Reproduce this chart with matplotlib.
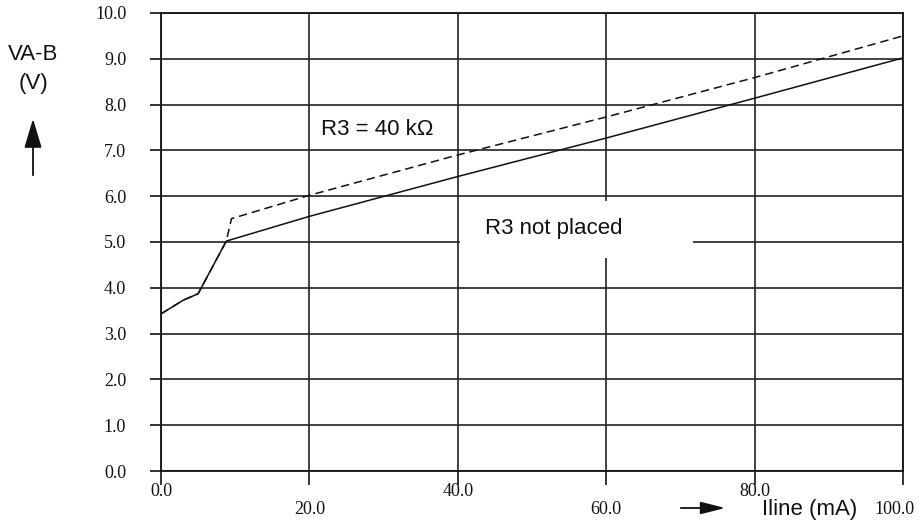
import matplotlib
matplotlib.use("Agg")
import matplotlib.pyplot as plt
from matplotlib.patches import FancyArrowPatch, Rectangle
from matplotlib.transforms import IdentityTransform, ScaledTranslation

# ---- data ----
iline_no_r3 = [0, 3.0, 5.0, 8.8, 20, 40, 60, 80, 100]
vab_no_r3 = [3.43, 3.73, 3.87, 5.02, 5.56, 6.43, 7.27, 8.14, 9.02]

iline_r3 = [0, 3.0, 5.0, 8.8, 9.5, 20, 40, 60, 80, 100]
vab_r3 = [3.43, 3.73, 3.87, 5.02, 5.51, 6.02, 6.90, 7.73, 8.59, 9.50]

x_major = [0, 40, 80]
x_major_labels = ["0.0", "40.0", "80.0"]
x_minor = [20, 60, 100]
x_minor_labels = ["20.0", "60.0", "100.0"]
y_ticks = [0, 1, 2, 3, 4, 5, 6, 7, 8, 9, 10]
y_labels = ["%.1f" % v for v in y_ticks]

label_r3 = "R3 = 40 k\u03a9"
label_no_r3 = "R3 not placed"
y_title = "VA-B\n(V)"
x_title = "Iline (mA)"

W, H = 918, 522
fig = plt.figure(figsize=(W / 100, H / 100), dpi=100)
ax = fig.add_axes([161 / W, 1 - 471 / H, (903 - 161) / W, (471 - 13) / H])

ax.set_xlim(0, 100)
ax.set_ylim(0, 10)

serif = "Liberation Serif"
sans = "Liberation Sans"
ink = "#111111"
tick_fs = 13

ax.set_axisbelow(True)
ax.set_xticks(x_major)
ax.set_xticklabels(x_major_labels, fontfamily=serif, fontsize=tick_fs)
ax.set_xticks(x_minor, minor=True)
ax.set_xticklabels(x_minor_labels, minor=True, fontfamily=serif, fontsize=tick_fs)
ax.set_yticks(y_ticks)
ax.set_yticklabels(y_labels, fontfamily=serif, fontsize=tick_fs)

ax.tick_params(axis="x", which="major", direction="out", length=10, width=1.2, pad=-1, colors=ink)
ax.tick_params(axis="x", which="minor", direction="out", length=10, width=1.2, pad=11.5, colors=ink)
ax.tick_params(axis="y", which="major", direction="out", length=8, width=1.2, pad=17, colors=ink)

# the last label sits a little left so it stays on the page
last = ax.get_xticklabels(minor=True)[-1]
last.set_transform(last.get_transform() + ScaledTranslation(-9 / 100, 0, fig.dpi_scale_trans))

ax.grid(True, which="both", axis="x", color="#222222", lw=1.2)
ax.grid(True, which="major", axis="y", color="#222222", lw=1.2)
for s in ax.spines.values():
    s.set_color(ink)
    s.set_linewidth(1.3)

# white box behind "R3 not placed" covering the grid
ax.add_patch(Rectangle((40.3, 4.66), 31.4, 1.23, facecolor="white", edgecolor="none", zorder=1))

ax.plot(iline_no_r3, vab_no_r3, color=ink, lw=1.1, zorder=3)
ax.plot(iline_r3, vab_r3, color=ink, lw=1.1, dashes=(5.5, 3.2), zorder=3)

ax.text(21.5, 7.46, label_r3, fontfamily=sans, fontsize=16, ha="left", va="center", color=ink)
ax.text(43.6, 5.30, label_no_r3, fontfamily=sans, fontsize=16, ha="left", va="center", color=ink)

# axis titles in figure pixels
fig.text(33 / W, 1 - 69 / H, y_title, fontfamily=sans, fontsize=16, ha="center", va="center",
         linespacing=1.5, color=ink)
fig.text(810 / W, 1 - 510 / H, x_title, fontfamily=sans, fontsize=16, ha="center", va="center", color=ink)

arr1 = FancyArrowPatch((33, H - 178), (33, H - 116), transform=IdentityTransform(),
                       arrowstyle="-|>,head_length=18,head_width=5.4", mutation_scale=1,
                       lw=1.3, color=ink)
arr2 = FancyArrowPatch((678, H - 508), (728, H - 508), transform=IdentityTransform(),
                       arrowstyle="-|>,head_length=15,head_width=3.8", mutation_scale=1,
                       lw=1.3, color=ink)
fig.patches.extend([arr1, arr2])

fig.savefig("out.png", dpi=100, facecolor="white")
